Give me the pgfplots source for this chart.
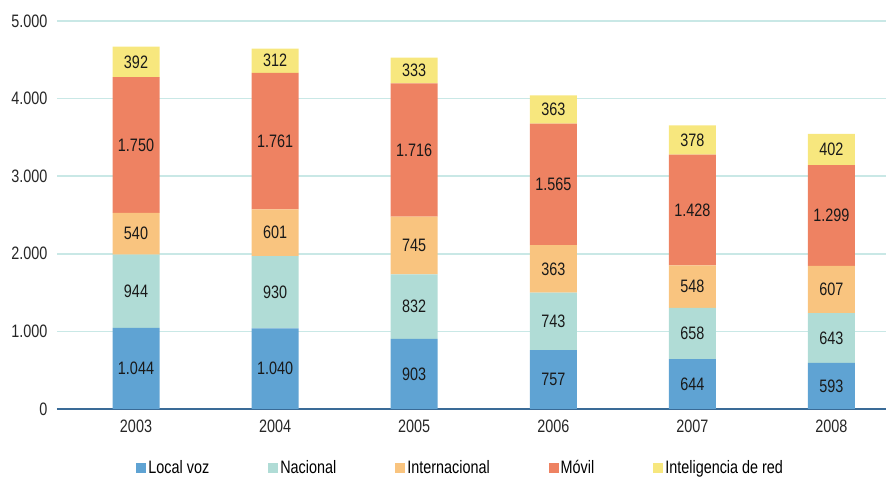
\documentclass[border=0pt]{standalone}
\usepackage{fontspec}
\setmainfont{Liberation Sans}[FakeStretch=0.8]
\usepackage{pgfplots}
\pgfplotsset{compat=1.18}

\definecolor{cLocal}{HTML}{5FA3D3}
\definecolor{cNac}{HTML}{B0DCD6}
\definecolor{cInt}{HTML}{F9C47F}
\definecolor{cMov}{HTML}{EE8262}
\definecolor{cIred}{HTML}{F7E77E}
\definecolor{gridc}{HTML}{C9E8E6}
\definecolor{axisc}{HTML}{3A6B97}

\pgfkeys{/pgf/number format/.cd,1000 sep={.},assume math mode=true}
\pgfplotsset{sq/.style={fill=#1, draw=none,
    legend image code/.code={\fill[#1] (0pt,-5pt) rectangle (10pt,5pt);}}}

\begin{document}
\begin{tikzpicture}[font=\fontsize{18}{21}\selectfont]
\begin{axis}[
    width=829pt, height=388pt, scale only axis,
    ybar stacked, bar width=47pt,
    xmin=-0.568, xmax=5.392,
    ymin=0, ymax=5000,
    xtick={0,1,2,3,4,5},
    xticklabels={2003,2004,2005,2006,2007,2008},
    ytick={0,1000,2000,3000,4000,5000},
    scaled y ticks=false,
    major tick length=0pt,
    axis line style={draw=none},
    ymajorgrids,
    major grid style={draw=gridc, line width=1.5pt},
    extra y ticks={0}, extra y tick labels={},
    extra y tick style={major grid style={draw=axisc, line width=1.8pt}},
    yticklabel style={xshift=-6pt, text=black!85},
    xticklabel style={yshift=-7pt, text=black!85},
    point meta=explicit,
    nodes near coords,
    every node near coord/.append style={anchor=center, text=black!90},
    legend columns=5,
    legend style={at={(0.487,-0.152)}, anchor=center, draw=none, fill=none,
        /tikz/every even column/.append style={column sep=57pt}},
]
\addplot[sq=cLocal] coordinates {(0,1044)[1044] (1,1040)[1040] (2,903)[903] (3,757)[757] (4,644)[644] (5,593)[593]};
\addplot[sq=cNac] coordinates {(0,944)[944] (1,930)[930] (2,832)[832] (3,743)[743] (4,658)[658] (5,643)[643]};
\addplot[sq=cInt] coordinates {(0,540)[540] (1,601)[601] (2,745)[745] (3,613)[363] (4,548)[548] (5,607)[607]};
\addplot[sq=cMov] coordinates {(0,1750)[1750] (1,1761)[1761] (2,1716)[1716] (3,1565)[1565] (4,1428)[1428] (5,1299)[1299]};
\addplot[sq=cIred] coordinates {(0,392)[392] (1,312)[312] (2,333)[333] (3,363)[363] (4,378)[378] (5,402)[402]};
\legend{Local voz, Nacional, Internacional, Móvil, Inteligencia de red}
\coordinate (bl) at (rel axis cs:0,0);
\coordinate (tr) at (rel axis cs:1,1);
\end{axis}
\pgfresetboundingbox
\path[use as bounding box] ([shift={(-57pt,-70pt)}]bl) rectangle ([shift={(0pt,21pt)}]tr);
\end{tikzpicture}
\end{document}
